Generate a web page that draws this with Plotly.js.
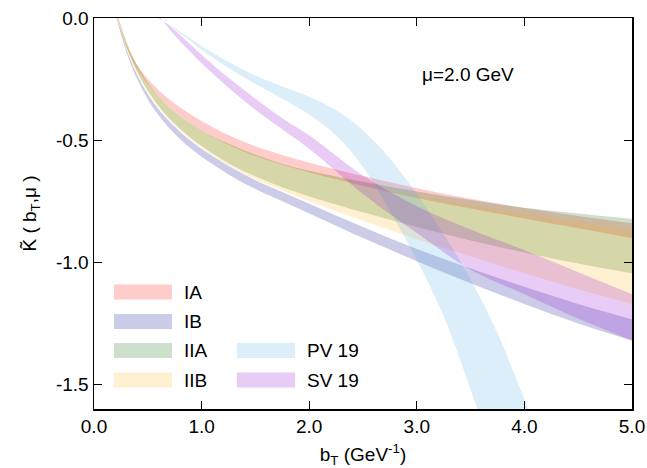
<!DOCTYPE html>
<html><head><meta charset="utf-8">
<script src="https://cdn.plot.ly/plotly-3.0.1.min.js"></script>
<style>html,body{margin:0;padding:0;background:#fff}#plot{width:647px;height:468px}</style>
</head><body><div id="plot"></div>
<script>
// common b_T grid for IA, IB, IIA, IIB
const bT = [0.2,0.25,0.3,0.35,0.4,0.5,0.6,0.7,0.8,0.9,1.0,1.25,1.5,1.75,2.0,2.5,3.0,3.5,4.0,4.5,5.0];
const IA_up  = [0.018,-0.05,-0.108,-0.154,-0.192,-0.25,-0.296,-0.334,-0.366,-0.395,-0.421,-0.479,-0.525,-0.561,-0.592,-0.647,-0.697,-0.74,-0.778,-0.81,-0.84];
const IA_lo  = [0.01,-0.06,-0.12,-0.168,-0.208,-0.27,-0.321,-0.364,-0.40,-0.432,-0.46,-0.519,-0.565,-0.601,-0.632,-0.687,-0.737,-0.78,-0.82,-0.86,-0.90];
const IB_up  = [0.033,-0.055,-0.125,-0.182,-0.231,-0.311,-0.373,-0.423,-0.465,-0.502,-0.535,-0.605,-0.664,-0.712,-0.76,-0.855,-0.945,-1.025,-1.10,-1.17,-1.233];
const IB_lo  = [0.025,-0.065,-0.138,-0.198,-0.249,-0.333,-0.398,-0.451,-0.495,-0.534,-0.568,-0.64,-0.70,-0.75,-0.80,-0.90,-0.995,-1.085,-1.17,-1.25,-1.32];
const IIA_up = [0.05,-0.032,-0.096,-0.148,-0.192,-0.265,-0.321,-0.365,-0.401,-0.432,-0.46,-0.515,-0.56,-0.597,-0.625,-0.67,-0.71,-0.745,-0.776,-0.80,-0.822];
const IIA_lo = [0.04,-0.046,-0.115,-0.171,-0.219,-0.298,-0.36,-0.411,-0.453,-0.491,-0.524,-0.594,-0.648,-0.693,-0.73,-0.795,-0.855,-0.91,-0.96,-1.005,-1.045];
const IIB_up = [0.05,-0.032,-0.096,-0.148,-0.192,-0.265,-0.321,-0.365,-0.401,-0.432,-0.46,-0.515,-0.56,-0.597,-0.625,-0.68,-0.725,-0.765,-0.80,-0.835,-0.865];
const IIB_lo = [0.037,-0.05,-0.119,-0.175,-0.223,-0.303,-0.365,-0.416,-0.458,-0.496,-0.53,-0.602,-0.66,-0.706,-0.75,-0.83,-0.905,-0.975,-1.045,-1.11,-1.17];
// PV 19
const bT_PV = [0.6,0.65,0.75,0.9,1.0,1.25,1.5,1.75,2.0,2.25,2.5,2.75,3.0,3.25,3.5,3.75,4.0,4.1];
const PV_up = [0.03,0.0,-0.04,-0.085,-0.115,-0.18,-0.235,-0.28,-0.322,-0.378,-0.46,-0.575,-0.72,-0.885,-1.07,-1.29,-1.56,-1.67];
const PV_lo = [0.02,0.005,-0.045,-0.095,-0.13,-0.205,-0.27,-0.33,-0.395,-0.48,-0.61,-0.79,-0.99,-1.22,-1.52,-1.85,-2.2,-2.35];
// SV 19
const bT_SV = [0.55,0.6,0.7,0.8,0.9,1.0,1.25,1.5,1.75,2.0,2.5,3.0,3.5,4.0,4.5,5.0];
const SV_up = [0.02,0.0,-0.03,-0.07,-0.11,-0.15,-0.245,-0.33,-0.41,-0.48,-0.645,-0.77,-0.865,-0.95,-1.04,-1.13];
const SV_lo = [0.03,0.01,-0.045,-0.095,-0.14,-0.185,-0.285,-0.375,-0.455,-0.535,-0.72,-0.88,-1.03,-1.13,-1.23,-1.32];

const names = ['IA','IB','IIA','IIB','PV 19','SV 19'];
const colors = ['rgba(255,0,0,0.2)','rgba(0,0,139,0.2)','rgba(0,100,0,0.2)','rgba(255,180,30,0.2)','rgba(80,170,230,0.2)','rgba(140,0,205,0.2)'];
const bands = [[bT,IA_up,IA_lo],[bT,IB_up,IB_lo],[bT,IIA_up,IIA_lo],[bT,IIB_up,IIB_lo],[bT_PV,PV_up,PV_lo],[bT_SV,SV_up,SV_lo]];

const traces = [];
bands.forEach((b,i)=>{
  traces.push({type:'scatter', mode:'lines', name:names[i]+' lower', x:b[0], y:b[2],
    line:{width:0, shape:'spline', smoothing:1, color:colors[i]}, hoverinfo:'skip', showlegend:false});
  traces.push({type:'scatter', mode:'lines', name:names[i], x:b[0], y:b[1], fill:'tonexty', fillcolor:colors[i],
    line:{width:0, shape:'spline', smoothing:1, color:colors[i]}, hoverinfo:'skip', showlegend:false});
});

const F = 'Liberation Sans, Arial, sans-serif';
const L=94, R=632, T=18, B=409;
const px2x = p => (p-L)/(R-L), py2y = p => (B-p)/(B-T);
const legPos = [[0,0],[0,1],[0,2],[0,3],[1,2],[1,3]];
const colX = [114, 237], rowY = [292, 321.5, 350.5, 380];
const shapes = [], annotations = [];
legPos.forEach((p,i)=>{
  const x0 = colX[p[0]], yc = rowY[p[1]];
  shapes.push({type:'rect', xref:'paper', yref:'paper', x0:px2x(x0), x1:px2x(x0+58), y0:py2y(yc+7.5), y1:py2y(yc-7.5), fillcolor:colors[i], line:{width:0}});
  annotations.push({xref:'paper', yref:'paper', x:px2x(x0+68), y:py2y(yc), xanchor:'left', yanchor:'middle', text:names[i], showarrow:false, font:{family:F, size:19, color:'#000'}});
});
annotations.push({xref:'x', yref:'y', x:3.48, y:-0.233, text:'μ=2.0 GeV', showarrow:false, xanchor:'center', yanchor:'middle', font:{family:F, size:19, color:'#000'}});

const layout = {
  width:647, height:468, margin:{l:L, r:647-R, t:T, b:468-B},
  paper_bgcolor:'#fff', plot_bgcolor:'#fff', showlegend:false,
  font:{family:F, size:19, color:'#000'},
  xaxis:{range:[0,5], tickvals:[0,1,2,3,4,5], ticktext:['0.0','1.0','2.0','3.0','4.0','5.0'],
    ticks:'inside', ticklen:8, tickwidth:1.2, tickcolor:'#000', mirror:'ticks', showline:true, linecolor:'#000', linewidth:1.5,
    showgrid:false, zeroline:false, title:{text:'b<sub>T</sub> (GeV<sup>-1</sup>)', font:{family:F,size:19}, standoff:18}},
  yaxis:{range:[-1.6,0], tickvals:[0,-0.5,-1,-1.5], ticktext:['0.0','-0.5','-1.0','-1.5'],
    ticks:'inside', ticklen:8, tickwidth:1.2, tickcolor:'#000', mirror:'ticks', showline:true, linecolor:'#000', linewidth:1.5,
    showgrid:false, zeroline:false, title:{text:'K\u0303 ( b<sub>T</sub>,μ )', font:{family:F,size:19}, standoff:14}},
  shapes:shapes, annotations:annotations
};
Plotly.newPlot('plot', traces, layout, {staticPlot:true, displayModeBar:false});
</script></body></html>
